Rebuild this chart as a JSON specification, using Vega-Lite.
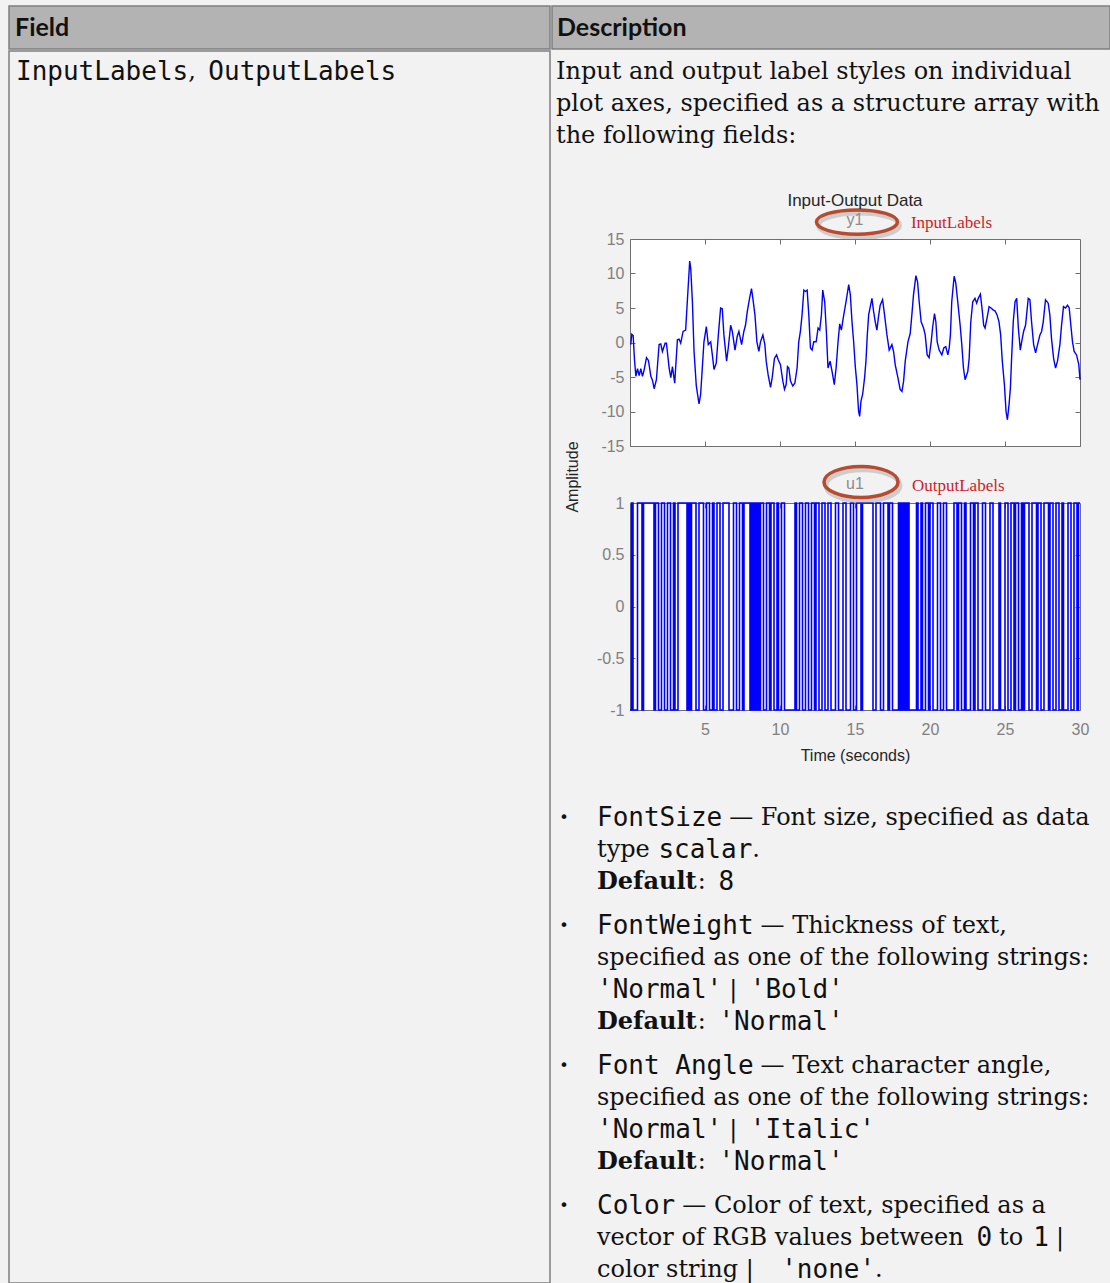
{
"$schema": "https://vega.github.io/schema/vega-lite/v6.json",
"background": "#f2f2f2",
"padding": {"left": 8, "top": 5, "right": 0, "bottom": 0},
"spacing": 0,
"config": {
 "view": {"stroke": null},
 "axis": {"grid": false, "domain": false, "tickSize": -5, "tickColor": "#6f6f6f", "tickWidth": 1, "labelFont": "Liberation Sans", "labelFontSize": 16, "labelColor": "#808080", "labelPadding": 8, "titleFont": "Liberation Sans", "titleFontSize": 16, "titleFontWeight": "normal", "titleColor": "#262626", "titlePadding": 6, "labelFlush": false, "labelOverlap": false},
 "axisX": {"labelPadding": 16, "titlePadding": 10},
 "axisY": {"labelPadding": 11},
 "title": {"font": "Liberation Sans", "fontSize": 17, "fontWeight": "normal", "color": "#262626"}
},
"datasets": {
 "txt": [
  {"c":"hl","ln":0,"p":0,"s":0,"f":"h","t":"Field"},
  {"c":"hr","ln":0,"p":0,"s":0,"f":"h","t":"Description"},
  {"c":"bl","ln":0,"p":0,"s":0,"f":"m","t":"InputLabels"},
  {"c":"bl","ln":0,"p":0,"s":1,"f":"r","t":", "},
  {"c":"bl","ln":0,"p":0,"s":2,"f":"m","t":"OutputLabels"},
  {"c":"d","ln":0,"p":0,"s":0,"f":"r","t":"Input and output label styles on individual"},
  {"c":"d","ln":1,"p":0,"s":0,"f":"r","t":"plot axes, specified as a structure array with"},
  {"c":"d","ln":2,"p":0,"s":0,"f":"r","t":"the following fields:"},
  {"c":"b","ln":0,"p":0,"s":0,"f":"dot","t":"•"},
  {"c":"b","ln":0,"p":0,"s":1,"f":"m","t":"FontSize"},
  {"c":"b","ln":0,"p":0,"s":2,"f":"r","t":" — Font size, specified as data"},
  {"c":"b","ln":1,"p":0,"s":1,"f":"r","t":"type "},
  {"c":"b","ln":1,"p":0,"s":2,"f":"m","t":"scalar"},
  {"c":"b","ln":1,"p":0,"s":3,"f":"r","t":"."},
  {"c":"b","ln":2,"p":0,"s":1,"f":"b","t":"Default"},
  {"c":"b","ln":2,"p":0,"s":2,"f":"r","t":": "},
  {"c":"b","ln":2,"p":0,"s":3,"f":"m","t":"8"},
  {"c":"b","ln":3,"p":1,"s":0,"f":"dot","t":"•"},
  {"c":"b","ln":3,"p":1,"s":1,"f":"m","t":"FontWeight"},
  {"c":"b","ln":3,"p":1,"s":2,"f":"r","t":" — Thickness of text,"},
  {"c":"b","ln":4,"p":1,"s":1,"f":"r","t":"specified as one of the following strings:"},
  {"c":"b","ln":5,"p":1,"s":1,"f":"m","t":"'Normal'"},
  {"c":"b","ln":5,"p":1,"s":2,"f":"r","t":" | "},
  {"c":"b","ln":5,"p":1,"s":3,"f":"m","t":"'Bold'"},
  {"c":"b","ln":6,"p":1,"s":1,"f":"b","t":"Default"},
  {"c":"b","ln":6,"p":1,"s":2,"f":"r","t":": "},
  {"c":"b","ln":6,"p":1,"s":3,"f":"m","t":"'Normal'"},
  {"c":"b","ln":7,"p":2,"s":0,"f":"dot","t":"•"},
  {"c":"b","ln":7,"p":2,"s":1,"f":"m","t":"Font Angle"},
  {"c":"b","ln":7,"p":2,"s":2,"f":"r","t":" — Text character angle,"},
  {"c":"b","ln":8,"p":2,"s":1,"f":"r","t":"specified as one of the following strings:"},
  {"c":"b","ln":9,"p":2,"s":1,"f":"m","t":"'Normal'"},
  {"c":"b","ln":9,"p":2,"s":2,"f":"r","t":" | "},
  {"c":"b","ln":9,"p":2,"s":3,"f":"m","t":"'Italic'"},
  {"c":"b","ln":10,"p":2,"s":1,"f":"b","t":"Default"},
  {"c":"b","ln":10,"p":2,"s":2,"f":"r","t":": "},
  {"c":"b","ln":10,"p":2,"s":3,"f":"m","t":"'Normal'"},
  {"c":"b","ln":11,"p":3,"s":0,"f":"dot","t":"•"},
  {"c":"b","ln":11,"p":3,"s":1,"f":"m","t":"Color"},
  {"c":"b","ln":11,"p":3,"s":2,"f":"r","t":" — Color of text, specified as a"},
  {"c":"b","ln":12,"p":3,"s":1,"f":"r","t":"vector of RGB values between "},
  {"c":"b","ln":12,"p":3,"s":2,"f":"m","t":"0"},
  {"c":"b","ln":12,"p":3,"s":3,"f":"r","t":" to "},
  {"c":"b","ln":12,"p":3,"s":4,"f":"m","t":"1"},
  {"c":"b","ln":12,"p":3,"s":5,"f":"r","t":" |"},
  {"c":"b","ln":13,"p":3,"s":1,"f":"r","t":"color string | "},
  {"c":"b","ln":13,"p":3,"s":2,"f":"m","t":"'none'"},
  {"c":"b","ln":13,"p":3,"s":3,"f":"r","t":"."}
 ],
 "ysig": [
  {"t":0.05,"v":-0.3},{"t":0.12,"v":1.2},{"t":0.21,"v":1.0},{"t":0.3,"v":-2.5},{"t":0.39,"v":-4.9},{"t":0.5,"v":-3.8},{"t":0.61,"v":-4.8},{"t":0.72,"v":-3.8},{"t":0.83,"v":-4.9},{"t":0.94,"v":-4.0},
  {"t":1.1,"v":-2.2},{"t":1.23,"v":-2.6},{"t":1.39,"v":-4.9},{"t":1.5,"v":-5.5},{"t":1.61,"v":-6.7},{"t":1.76,"v":-5.4},{"t":1.94,"v":-0.3},{"t":2.05,"v":-0.2},{"t":2.16,"v":-1.3},{"t":2.34,"v":-0.1},
  {"t":2.43,"v":-0.1},{"t":2.61,"v":-3.7},{"t":2.72,"v":-5.1},{"t":2.83,"v":-3.5},{"t":2.98,"v":-5.9},{"t":3.16,"v":0.4},{"t":3.27,"v":0.5},{"t":3.38,"v":-0.1},{"t":3.54,"v":1.6},{"t":3.71,"v":1.8},
  {"t":3.82,"v":5.9},{"t":3.98,"v":11.8},{"t":4.05,"v":10.7},{"t":4.16,"v":5.9},{"t":4.27,"v":-1.3},{"t":4.42,"v":-6.3},{"t":4.6,"v":-8.9},{"t":4.71,"v":-7.5},{"t":4.82,"v":-3.7},{"t":4.93,"v":0.1},
  {"t":5.09,"v":2.3},{"t":5.22,"v":-0.3},{"t":5.38,"v":0.1},{"t":5.49,"v":-1.8},{"t":5.6,"v":-3.9},{"t":5.75,"v":-3.0},{"t":5.89,"v":1.1},{"t":6.04,"v":5.0},{"t":6.15,"v":4.9},{"t":6.26,"v":1.1},
  {"t":6.44,"v":-2.7},{"t":6.55,"v":-0.8},{"t":6.71,"v":2.5},{"t":6.82,"v":1.6},{"t":7.0,"v":-1.1},{"t":7.15,"v":0.9},{"t":7.26,"v":1.6},{"t":7.44,"v":-0.3},{"t":7.59,"v":1.6},{"t":7.7,"v":2.5},
  {"t":7.82,"v":4.5},{"t":7.97,"v":6.4},{"t":8.1,"v":7.8},{"t":8.19,"v":6.4},{"t":8.33,"v":4.0},{"t":8.46,"v":0.1},{"t":8.59,"v":-1.3},{"t":8.7,"v":0.1},{"t":8.86,"v":1.1},{"t":8.99,"v":-0.3},
  {"t":9.08,"v":-2.7},{"t":9.21,"v":-4.7},{"t":9.37,"v":-6.5},{"t":9.48,"v":-5.1},{"t":9.63,"v":-2.3},{"t":9.77,"v":-1.8},{"t":9.88,"v":-2.5},{"t":10.03,"v":-3.2},{"t":10.19,"v":-5.6},{"t":10.3,"v":-6.8},
  {"t":10.41,"v":-6.1},{"t":10.5,"v":-3.5},{"t":10.59,"v":-3.7},{"t":10.7,"v":-5.6},{"t":10.85,"v":-6.3},{"t":10.99,"v":-5.9},{"t":11.14,"v":-3.7},{"t":11.25,"v":0.1},{"t":11.36,"v":1.6},{"t":11.47,"v":4.0},
  {"t":11.59,"v":7.6},{"t":11.7,"v":7.4},{"t":11.81,"v":7.6},{"t":11.92,"v":4.0},{"t":12.03,"v":-0.8},{"t":12.14,"v":-1.1},{"t":12.25,"v":0.1},{"t":12.41,"v":0.1},{"t":12.54,"v":2.1},{"t":12.65,"v":1.8},
  {"t":12.76,"v":4.0},{"t":12.85,"v":7.6},{"t":12.98,"v":5.9},{"t":13.09,"v":1.6},{"t":13.2,"v":-3.7},{"t":13.34,"v":-2.7},{"t":13.47,"v":-4.2},{"t":13.62,"v":-6.1},{"t":13.74,"v":-3.7},{"t":13.87,"v":0.1},
  {"t":13.98,"v":2.7},{"t":14.09,"v":1.8},{"t":14.25,"v":4.0},{"t":14.4,"v":5.9},{"t":14.58,"v":8.4},{"t":14.69,"v":6.9},{"t":14.8,"v":3.0},{"t":14.91,"v":0.1},{"t":15.02,"v":-3.5},{"t":15.13,"v":-6.1},
  {"t":15.24,"v":-10.0},{"t":15.31,"v":-10.7},{"t":15.4,"v":-8.5},{"t":15.51,"v":-7.5},{"t":15.64,"v":-5.1},{"t":15.73,"v":-2.7},{"t":15.82,"v":1.1},{"t":15.91,"v":4.0},{"t":16.02,"v":5.2},{"t":16.13,"v":6.4},
  {"t":16.24,"v":4.5},{"t":16.35,"v":3.0},{"t":16.46,"v":1.8},{"t":16.57,"v":3.8},{"t":16.68,"v":5.4},{"t":16.84,"v":6.2},{"t":16.97,"v":4.0},{"t":17.13,"v":1.1},{"t":17.28,"v":-1.1},{"t":17.46,"v":-0.3},
  {"t":17.57,"v":-1.3},{"t":17.68,"v":-3.2},{"t":17.86,"v":-5.1},{"t":18.01,"v":-6.8},{"t":18.13,"v":-7.1},{"t":18.24,"v":-5.6},{"t":18.35,"v":-2.7},{"t":18.53,"v":0.1},{"t":18.68,"v":1.3},{"t":18.79,"v":4.0},
  {"t":18.9,"v":6.9},{"t":19.06,"v":9.7},{"t":19.17,"v":8.8},{"t":19.28,"v":5.9},{"t":19.41,"v":3.0},{"t":19.57,"v":2.1},{"t":19.68,"v":1.1},{"t":19.81,"v":-1.8},{"t":19.94,"v":-2.2},{"t":20.08,"v":0.1},
  {"t":20.17,"v":2.1},{"t":20.3,"v":4.2},{"t":20.39,"v":3.0},{"t":20.48,"v":0.1},{"t":20.61,"v":-1.1},{"t":20.79,"v":-1.8},{"t":20.92,"v":-0.8},{"t":21.05,"v":-0.6},{"t":21.19,"v":-1.8},{"t":21.28,"v":-0.8},
  {"t":21.36,"v":1.1},{"t":21.45,"v":5.9},{"t":21.61,"v":9.6},{"t":21.72,"v":8.6},{"t":21.85,"v":5.9},{"t":22.01,"v":2.5},{"t":22.12,"v":-0.3},{"t":22.23,"v":-3.7},{"t":22.34,"v":-5.4},{"t":22.52,"v":-4.2},
  {"t":22.61,"v":-2.3},{"t":22.72,"v":3.0},{"t":22.85,"v":5.9},{"t":23.0,"v":6.4},{"t":23.11,"v":5.7},{"t":23.22,"v":6.4},{"t":23.36,"v":7.0},{"t":23.49,"v":4.5},{"t":23.58,"v":2.5},{"t":23.67,"v":2.1},
  {"t":23.8,"v":3.5},{"t":23.94,"v":5.2},{"t":24.07,"v":5.0},{"t":24.22,"v":4.7},{"t":24.33,"v":4.6},{"t":24.47,"v":4.0},{"t":24.6,"v":3.0},{"t":24.71,"v":1.1},{"t":24.82,"v":-2.7},{"t":24.96,"v":-6.1},
  {"t":25.07,"v":-10.0},{"t":25.16,"v":-11.2},{"t":25.27,"v":-9.0},{"t":25.36,"v":-6.6},{"t":25.44,"v":-2.3},{"t":25.55,"v":3.0},{"t":25.67,"v":5.9},{"t":25.78,"v":6.4},{"t":25.89,"v":2.1},{"t":26.02,"v":-1.1},
  {"t":26.11,"v":0.1},{"t":26.24,"v":1.6},{"t":26.37,"v":2.5},{"t":26.55,"v":6.4},{"t":26.66,"v":6.2},{"t":26.77,"v":3.0},{"t":26.91,"v":-0.3},{"t":27.04,"v":-1.5},{"t":27.17,"v":-0.3},{"t":27.33,"v":1.1},
  {"t":27.44,"v":1.6},{"t":27.55,"v":3.0},{"t":27.7,"v":6.2},{"t":27.88,"v":5.7},{"t":27.99,"v":4.0},{"t":28.1,"v":0.6},{"t":28.24,"v":-2.3},{"t":28.37,"v":-3.7},{"t":28.5,"v":-2.7},{"t":28.66,"v":-0.3},
  {"t":28.77,"v":2.5},{"t":28.9,"v":5.2},{"t":29.03,"v":5.0},{"t":29.17,"v":5.4},{"t":29.28,"v":5.0},{"t":29.39,"v":2.5},{"t":29.5,"v":0.1},{"t":29.61,"v":-1.3},{"t":29.77,"v":-1.8},{"t":29.92,"v":-3.2},
  {"t":30.0,"v":-5.4}
 ],
 "usig": [
  {"t":0,"u":-1},{"t":0.1,"u":1},{"t":0.2,"u":-1},{"t":0.5,"u":1},{"t":0.8,"u":-1},{"t":0.9,"u":1},{"t":1.6,"u":-1},{"t":1.7,"u":1},{"t":1.9,"u":-1},{"t":2.1,"u":1},{"t":2.3,"u":-1},
  {"t":2.5,"u":1},{"t":2.7,"u":-1},{"t":2.9,"u":1},{"t":3.0,"u":-1},{"t":3.2,"u":1},{"t":3.8,"u":-1},{"t":3.9,"u":1},{"t":4.0,"u":-1},{"t":4.1,"u":1},{"t":4.4,"u":-1},
  {"t":4.6,"u":1},{"t":4.9,"u":-1},{"t":5.1,"u":1},{"t":5.3,"u":-1},{"t":5.5,"u":1},{"t":5.6,"u":-1},{"t":5.8,"u":1},{"t":6.0,"u":-1},{"t":6.2,"u":1},{"t":6.6,"u":-1},
  {"t":6.9,"u":1},{"t":7.1,"u":-1},{"t":7.3,"u":1},{"t":7.5,"u":-1},{"t":7.6,"u":1},{"t":8.0,"u":-1},{"t":8.1,"u":1},{"t":8.2,"u":-1},{"t":8.3,"u":1},{"t":8.4,"u":-1},
  {"t":8.5,"u":1},{"t":8.6,"u":-1},{"t":8.7,"u":1},{"t":8.9,"u":-1},{"t":9.1,"u":1},{"t":9.3,"u":-1},{"t":9.4,"u":1},{"t":9.6,"u":-1},{"t":9.8,"u":1},{"t":9.9,"u":-1},
  {"t":10.1,"u":1},{"t":10.3,"u":-1},{"t":11.0,"u":1},{"t":11.1,"u":-1},{"t":11.3,"u":1},{"t":11.5,"u":-1},{"t":11.7,"u":1},{"t":11.9,"u":-1},{"t":12.1,"u":1},{"t":12.3,"u":-1},
  {"t":12.4,"u":1},{"t":12.6,"u":-1},{"t":12.8,"u":1},{"t":13.0,"u":-1},{"t":13.2,"u":1},{"t":13.4,"u":-1},{"t":13.7,"u":1},{"t":13.9,"u":-1},{"t":14.2,"u":1},{"t":14.4,"u":-1},
  {"t":14.7,"u":1},{"t":14.9,"u":-1},{"t":15.1,"u":1},{"t":15.4,"u":-1},{"t":15.5,"u":1},{"t":16.2,"u":-1},{"t":16.4,"u":1},{"t":16.7,"u":-1},{"t":16.9,"u":1},{"t":17.2,"u":-1},
  {"t":17.3,"u":1},{"t":17.5,"u":-1},{"t":17.9,"u":1},{"t":18.0,"u":-1},{"t":18.1,"u":1},{"t":18.2,"u":-1},{"t":18.3,"u":1},{"t":18.4,"u":-1},{"t":18.5,"u":1},{"t":18.6,"u":-1},
  {"t":19.1,"u":1},{"t":19.2,"u":-1},{"t":19.4,"u":1},{"t":19.5,"u":-1},{"t":19.7,"u":1},{"t":19.9,"u":-1},{"t":20.0,"u":1},{"t":20.2,"u":-1},{"t":20.5,"u":1},{"t":20.7,"u":-1},
  {"t":20.9,"u":1},{"t":21.1,"u":-1},{"t":21.6,"u":1},{"t":21.8,"u":-1},{"t":21.9,"u":1},{"t":22.1,"u":-1},{"t":22.3,"u":1},{"t":22.4,"u":-1},{"t":22.7,"u":1},{"t":22.9,"u":-1},
  {"t":23.0,"u":1},{"t":23.2,"u":-1},{"t":23.5,"u":1},{"t":23.7,"u":-1},{"t":24.0,"u":1},{"t":24.2,"u":-1},{"t":24.6,"u":1},{"t":24.7,"u":-1},{"t":25.0,"u":1},{"t":25.2,"u":-1},
  {"t":25.4,"u":1},{"t":25.6,"u":-1},{"t":25.7,"u":1},{"t":25.9,"u":-1},{"t":26.1,"u":1},{"t":26.2,"u":-1},{"t":26.3,"u":1},{"t":26.6,"u":-1},{"t":26.8,"u":1},{"t":27.1,"u":-1},
  {"t":27.2,"u":1},{"t":27.4,"u":-1},{"t":27.6,"u":1},{"t":27.9,"u":-1},{"t":28.0,"u":1},{"t":28.2,"u":-1},{"t":28.4,"u":1},{"t":28.6,"u":-1},{"t":28.8,"u":1},{"t":28.9,"u":-1},
  {"t":29.2,"u":1},{"t":29.4,"u":-1},{"t":29.6,"u":1},{"t":29.8,"u":-1},{"t":29.9,"u":1},{"t":30.0,"u":1}
 ]
},
"vconcat": [
 {"spacing": 0, "hconcat": [
  {"width": 541, "height": 43,
   "view": {"fill": "#b3b3b3", "stroke": "#7f7f7f", "strokeWidth": 1.5},
   "data": {"name": "txt"},
   "transform": [
    {"filter": "datum.c == 'hl'"},
    {"calculate": "6", "as": "px"},
    {"calculate": "21.5", "as": "py"},
    {"calculate": "trim(datum.t)", "as": "tx"}
   ],
   "mark": {"type": "text", "align": "left", "baseline": "middle", "font": "Lato", "fontWeight": "bold", "fontSize": 25, "color": "#111111"},
   "encoding": {
    "x": {"field": "px", "type": "quantitative", "scale": {"domain": [0, 541], "nice": false, "zero": false}, "axis": null},
    "y": {"field": "py", "type": "quantitative", "scale": {"domain": [0, 43], "nice": false, "zero": false, "reverse": true}, "axis": null},
    "text": {"field": "tx", "type": "nominal"}
   }
  },
  {"width": 558, "height": 43,
   "view": {"fill": "#b3b3b3", "stroke": "#7f7f7f", "strokeWidth": 1.5},
   "data": {"name": "txt"},
   "transform": [
    {"filter": "datum.c == 'hr'"},
    {"calculate": "5", "as": "px"},
    {"calculate": "21.5", "as": "py"},
    {"calculate": "trim(datum.t)", "as": "tx"}
   ],
   "mark": {"type": "text", "align": "left", "baseline": "middle", "font": "Lato", "fontWeight": "bold", "fontSize": 25, "color": "#111111"},
   "encoding": {
    "x": {"field": "px", "type": "quantitative", "scale": {"domain": [0, 558], "nice": false, "zero": false}, "axis": null},
    "y": {"field": "py", "type": "quantitative", "scale": {"domain": [0, 43], "nice": false, "zero": false, "reverse": true}, "axis": null},
    "text": {"field": "tx", "type": "nominal"}
   }
  }
 ]},
 {"spacing": 0, "hconcat": [
  {"width": 541, "height": 1232,
   "view": {"fill": "#f2f2f2", "stroke": "#7f7f7f", "strokeWidth": 1.5},
   "data": {"name": "txt"},
   "transform": [
    {"filter": "datum.c == 'bl'"},
    {"calculate": "length(datum.t) - length(replace(datum.t, regexp(' ', 'g'), ''))", "as": "ns"},
    {"calculate": "length(datum.t) - length(replace(datum.t, regexp('[A-Z]', 'g'), ''))", "as": "nc"},
    {"calculate": "datum.f == 'm' ? length(datum.t) * 15.65 : datum.f == 'b' ? length(datum.t) * 14.4 : datum.f == 'r' ? (length(datum.t) - datum.ns) * 13.2 + datum.ns * 7 + datum.nc * 4 : 0", "as": "w"},
    {"window": [{"op": "sum", "field": "w", "as": "cw"}], "groupby": ["ln"], "sort": [{"field": "s", "order": "ascending"}], "frame": [null, 0]},
    {"calculate": "7 + datum.cw - datum.w + (slice(datum.t, 0, 1) == ' ' ? 7 : 0)", "as": "px"},
    {"calculate": "21 + datum.ln * 32", "as": "py"},
    {"calculate": "trim(datum.t)", "as": "tx"}
   ],
   "encoding": {
    "x": {"field": "px", "type": "quantitative", "scale": {"domain": [0, 541], "nice": false, "zero": false}, "axis": null},
    "y": {"field": "py", "type": "quantitative", "scale": {"domain": [0, 1232], "nice": false, "zero": false, "reverse": true}, "axis": null},
    "text": {"field": "tx", "type": "nominal"}
   },
   "layer": [
    {"transform": [{"filter": "datum.f == 'm'"}], "mark": {"type": "text", "align": "left", "baseline": "middle", "font": "DejaVu Sans Mono", "fontSize": 26, "color": "#111111"}},
    {"transform": [{"filter": "datum.f == 'r'"}], "mark": {"type": "text", "align": "left", "baseline": "middle", "font": "DejaVu Serif", "fontSize": 24, "color": "#111111"}}
   ]
  },
  {"spacing": 20, "vconcat": [
   {"width": 558, "height": 120,
    "data": {"name": "txt"},
    "transform": [
     {"filter": "datum.c == 'd'"},
     {"calculate": "5", "as": "px"},
     {"calculate": "21 + datum.ln * 32", "as": "py"},
     {"calculate": "trim(datum.t)", "as": "tx"}
    ],
    "mark": {"type": "text", "align": "left", "baseline": "middle", "font": "DejaVu Serif", "fontSize": 24, "color": "#111111"},
    "encoding": {
     "x": {"field": "px", "type": "quantitative", "scale": {"domain": [0, 558], "nice": false, "zero": false}, "axis": null},
     "y": {"field": "py", "type": "quantitative", "scale": {"domain": [0, 120], "nice": false, "zero": false, "reverse": true}, "axis": null},
     "text": {"field": "tx", "type": "nominal"}
    }
   },
   {"spacing": 0, "hconcat": [
    {"width": 44, "height": 476,
     "data": {"values": [{}]},
     "mark": {"type": "text", "text": "Amplitude", "angle": 270, "align": "center", "baseline": "middle", "font": "Liberation Sans", "fontSize": 16, "color": "#262626"},
     "encoding": {}
    },
    {"spacing": 57, "bounds": "flush", "vconcat": [
     {"width": 450, "height": 207,
      "view": {"fill": "white", "stroke": "#6f6f6f", "strokeWidth": 1},
      "title": {"text": "Input-Output Data", "frame": "group", "offset": -7},
      "resolve": {"axis": {"x": "independent", "y": "independent"}},
      "layer": [
       {"data": {"name": "ysig"},
        "mark": {"type": "line", "color": "#0000ff", "strokeWidth": 1.4},
        "encoding": {
         "x": {"field": "t", "type": "quantitative", "scale": {"domain": [0, 30], "nice": false, "zero": false}, "axis": {"orient": "bottom", "values": [5, 10, 15, 20, 25, 30], "labels": false, "title": null}},
         "y": {"field": "v", "type": "quantitative", "scale": {"domain": [-15, 15], "nice": false, "zero": false}, "axis": {"orient": "left", "values": [-15, -10, -5, 0, 5, 10, 15], "title": null, "labelExpr": "'' + datum.value"}}
        }
       },
       {"data": {"values": [{}]},
        "mark": {"type": "text", "text": "y1", "align": "center", "baseline": "middle", "font": "Liberation Sans", "fontSize": 16, "color": "#8c8c8c"},
        "encoding": {
         "x": {"datum": 15, "type": "quantitative", "axis": {"orient": "top", "values": [5, 10, 15, 20, 25], "labels": false, "title": null}},
         "y": {"datum": 17.75, "type": "quantitative", "axis": {"orient": "right", "values": [-10, -5, 0, 5, 10], "labels": false, "title": null}}
        }
       },
       {"data": {"values": [{}]},
        "mark": {"type": "point", "shape": "M -1 0 A 1 0.3 0 1 1 1 0 A 1 0.3 0 1 1 -1 0 Z", "size": 6561, "filled": false, "color": "#8a8a8a", "opacity": 0.35, "strokeWidth": 5},
        "encoding": {
         "x": {"datum": 15.27, "type": "quantitative", "axis": null},
         "y": {"datum": 17.0, "type": "quantitative", "axis": null}
        }
       },
       {"data": {"values": [{}]},
        "mark": {"type": "point", "shape": "M -1 0 A 1 0.3 0 1 1 1 0 A 1 0.3 0 1 1 -1 0 Z", "size": 6561, "filled": false, "color": "#b94a2e", "opacity": 1, "strokeWidth": 3.5},
        "encoding": {
         "x": {"datum": 15.13, "type": "quantitative", "axis": null},
         "y": {"datum": 17.46, "type": "quantitative", "axis": null}
        }
       },
       {"data": {"values": [{}]},
        "mark": {"type": "text", "text": "InputLabels", "align": "left", "baseline": "middle", "font": "Liberation Serif", "fontSize": 17, "color": "#cc2229"},
        "encoding": {
         "x": {"datum": 18.73, "type": "quantitative", "axis": null},
         "y": {"datum": 17.32, "type": "quantitative", "axis": null}
        }
       }
      ]
     },
     {"width": 450, "height": 207,
      "view": {"fill": "white", "stroke": "#6f6f6f", "strokeWidth": 1},
      "resolve": {"axis": {"x": "independent", "y": "independent"}},
      "layer": [
       {"data": {"name": "usig"},
        "mark": {"type": "line", "interpolate": "step-after", "color": "#0000ff", "strokeWidth": 1.6},
        "encoding": {
         "x": {"field": "t", "type": "quantitative", "scale": {"domain": [0, 30], "nice": false, "zero": false}, "axis": {"orient": "bottom", "values": [5, 10, 15, 20, 25, 30], "title": "Time (seconds)"}},
         "y": {"field": "u", "type": "quantitative", "scale": {"domain": [-1, 1], "nice": false, "zero": false}, "axis": {"orient": "left", "values": [-1, -0.5, 0, 0.5, 1], "title": null, "labelExpr": "'' + datum.value"}}
        }
       },
       {"data": {"values": [{}]},
        "mark": {"type": "text", "text": "u1", "align": "center", "baseline": "middle", "font": "Liberation Sans", "fontSize": 16, "color": "#8c8c8c"},
        "encoding": {
         "x": {"datum": 15, "type": "quantitative", "axis": {"orient": "top", "values": [5, 10, 15, 20, 25], "labels": false, "title": null}},
         "y": {"datum": 1.184, "type": "quantitative", "axis": {"orient": "right", "values": [-0.5, 0, 0.5], "labels": false, "title": null}}
        }
       },
       {"data": {"values": [{}]},
        "mark": {"type": "point", "shape": "M -1 0 A 1 0.42 0 1 1 1 0 A 1 0.42 0 1 1 -1 0 Z", "size": 5476, "filled": false, "color": "#8a8a8a", "opacity": 0.35, "strokeWidth": 5},
        "encoding": {
         "x": {"datum": 15.53, "type": "quantitative", "axis": null},
         "y": {"datum": 1.17, "type": "quantitative", "axis": null}
        }
       },
       {"data": {"values": [{}]},
        "mark": {"type": "point", "shape": "M -1 0 A 1 0.42 0 1 1 1 0 A 1 0.42 0 1 1 -1 0 Z", "size": 5476, "filled": false, "color": "#b94a2e", "opacity": 1, "strokeWidth": 3.5},
        "encoding": {
         "x": {"datum": 15.4, "type": "quantitative", "axis": null},
         "y": {"datum": 1.203, "type": "quantitative", "axis": null}
        }
       },
       {"data": {"values": [{}]},
        "mark": {"type": "text", "text": "OutputLabels", "align": "left", "baseline": "middle", "font": "Liberation Serif", "fontSize": 17, "color": "#cc2229"},
        "encoding": {
         "x": {"datum": 18.8, "type": "quantitative", "axis": null},
         "y": {"datum": 1.164, "type": "quantitative", "axis": null}
        }
       }
      ]
     }
    ]}
   ]},
   {"width": 558, "height": 470,
    "data": {"name": "txt"},
    "transform": [
     {"filter": "datum.c == 'b'"},
     {"calculate": "length(datum.t) - length(replace(datum.t, regexp(' ', 'g'), ''))", "as": "ns"},
     {"calculate": "length(datum.t) - length(replace(datum.t, regexp('[A-Z]', 'g'), ''))", "as": "nc"},
     {"calculate": "length(datum.t) - length(replace(datum.t, regexp('—', 'g'), ''))", "as": "nd"},
     {"calculate": "datum.f == 'm' ? length(datum.t) * 15.65 : datum.f == 'b' ? length(datum.t) * 14.4 : datum.f == 'r' ? (length(datum.t) - datum.ns) * 13.6 + datum.ns * 7 + datum.nc * 6 + datum.nd * 12 : 0", "as": "w"},
     {"window": [{"op": "sum", "field": "w", "as": "cw"}], "groupby": ["ln"], "sort": [{"field": "s", "order": "ascending"}], "frame": [null, 0]},
     {"calculate": "(datum.f == 'dot' ? 13 : 46 + datum.cw - datum.w) + (slice(datum.t, 0, 1) == ' ' ? 7 : 0)", "as": "px"},
     {"calculate": "34 + datum.ln * 32 + datum.p * 12", "as": "py"},
     {"calculate": "trim(datum.t)", "as": "tx"}
    ],
    "encoding": {
     "x": {"field": "px", "type": "quantitative", "scale": {"domain": [0, 558], "nice": false, "zero": false}, "axis": null},
     "y": {"field": "py", "type": "quantitative", "scale": {"domain": [0, 470], "nice": false, "zero": false, "reverse": true}, "axis": null},
     "text": {"field": "tx", "type": "nominal"}
    },
    "layer": [
     {"transform": [{"filter": "datum.f == 'm'"}], "mark": {"type": "text", "align": "left", "baseline": "middle", "font": "DejaVu Sans Mono", "fontSize": 26, "color": "#111111"}},
     {"transform": [{"filter": "datum.f == 'r'"}], "mark": {"type": "text", "align": "left", "baseline": "middle", "font": "DejaVu Serif", "fontSize": 24, "color": "#111111"}},
     {"transform": [{"filter": "datum.f == 'b'"}], "mark": {"type": "text", "align": "left", "baseline": "middle", "font": "DejaVu Serif", "fontWeight": "bold", "fontSize": 24, "color": "#111111"}},
     {"transform": [{"filter": "datum.f == 'dot'"}], "mark": {"type": "text", "align": "center", "baseline": "middle", "font": "DejaVu Sans", "fontSize": 16, "color": "#111111"}}
    ]
   }
  ]}
 ]}
]
}
